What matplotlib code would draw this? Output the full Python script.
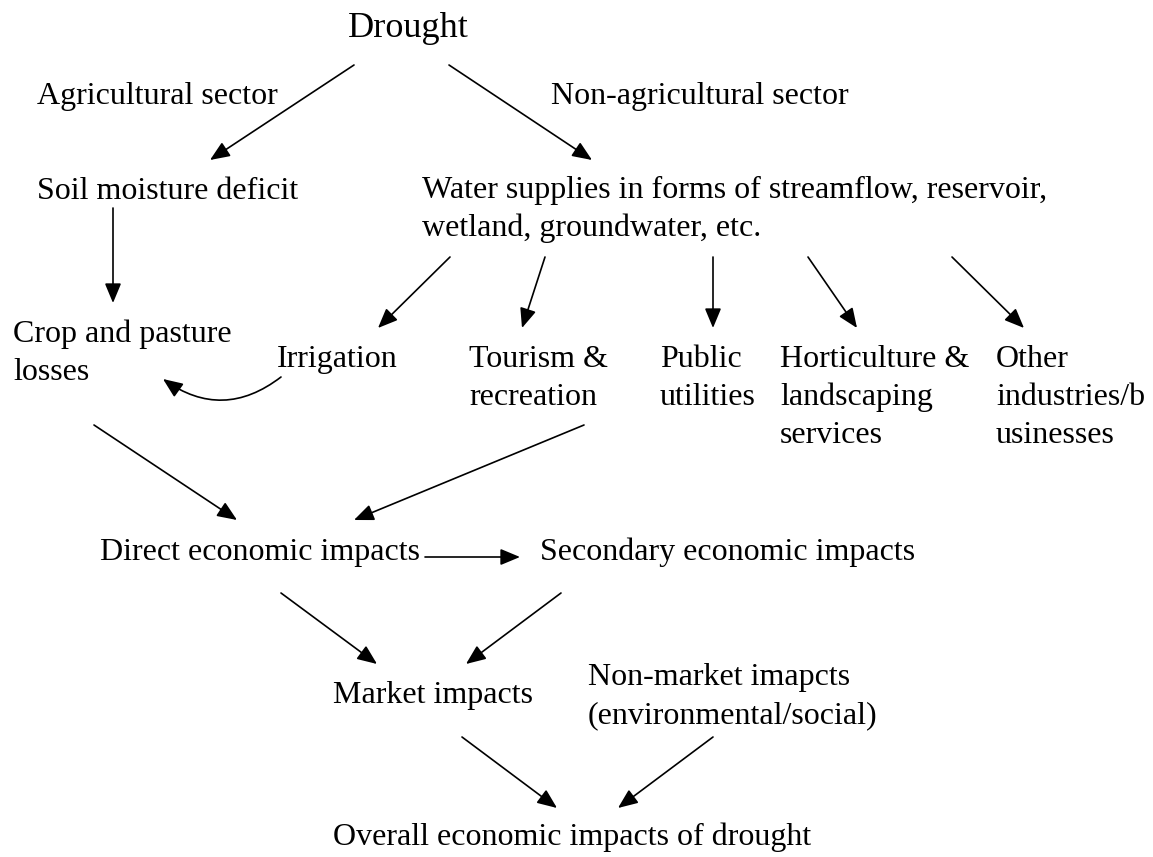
import matplotlib.pyplot as plt

# diagram nodes: label, left x, baseline y of the first line (pixel coords, y down)
labels = [
    "Drought",
    "Agricultural sector",
    "Non-agricultural sector",
    "Soil moisture deficit",
    "Water supplies in forms of streamflow, reservoir,\nwetland, groundwater, etc.",
    "Crop and pasture\nlosses",
    "Irrigation",
    "Tourism &\nrecreation",
    "Public\nutilities",
    "Horticulture &\nlandscaping\nservices",
    "Other\nindustries/b\nusinesses",
    "Direct economic impacts",
    "Secondary economic impacts",
    "Market impacts",
    "Non-market imapcts\n(environmental/social)",
    "Overall economic impacts of drought",
]
label_x = [348, 37, 551, 37, 422, 13, 277, 469, 660, 780, 996, 100, 540, 333, 588, 333]
label_y = [37, 104, 104, 199, 198, 342, 367, 367, 367, 367, 367, 560, 560, 703, 685, 845]
label_size = [26] + [23] * 15
line_gap = 38  # px between lines of one label

# arrows: start -> end, plus arc curvature
arrow_start = [(354, 65), (449, 65), (113, 208), (450, 257), (545, 257), (713, 257),
               (808, 257), (952, 257), (281, 377), (94, 425), (584, 425), (425, 557),
               (281, 593), (561, 593), (462, 737), (713, 737)]
arrow_end = [(210, 160), (592, 160), (113, 303), (378, 328), (522, 328), (713, 328),
             (857, 328), (1024, 328), (163, 379), (237, 520), (354, 520), (520, 557),
             (377, 664), (466, 664), (557, 808), (618, 808)]
arrow_rad = [0, 0, 0, 0, 0, 0, 0, 0, -0.37, 0, 0, 0, 0, 0, 0, 0]

fig = plt.figure(figsize=(11.53, 8.57), dpi=100)
ax = fig.add_axes([0, 0, 1, 1])
ax.set_xlim(0, 1153)
ax.set_ylim(857, 0)
ax.axis('off')

for txt, x, y, s in zip(labels, label_x, label_y, label_size):
    # one text per line so the line spacing is exact
    for i, line in enumerate(txt.split('\n')):
        ax.text(x, y + i * line_gap, line, family='Liberation Serif', fontsize=s,
                ha='left', va='baseline')

for (x0, y0), (x1, y1), r in zip(arrow_start, arrow_end, arrow_rad):
    ax.annotate('', xy=(x1, y1), xytext=(x0, y0),
                arrowprops=dict(arrowstyle='-|>,head_length=0.6,head_width=0.25',
                                mutation_scale=20, color='black', lw=1.2,
                                shrinkA=0, shrinkB=0,
                                connectionstyle='arc3,rad=%s' % r))

fig.savefig('out.png', dpi=100)
